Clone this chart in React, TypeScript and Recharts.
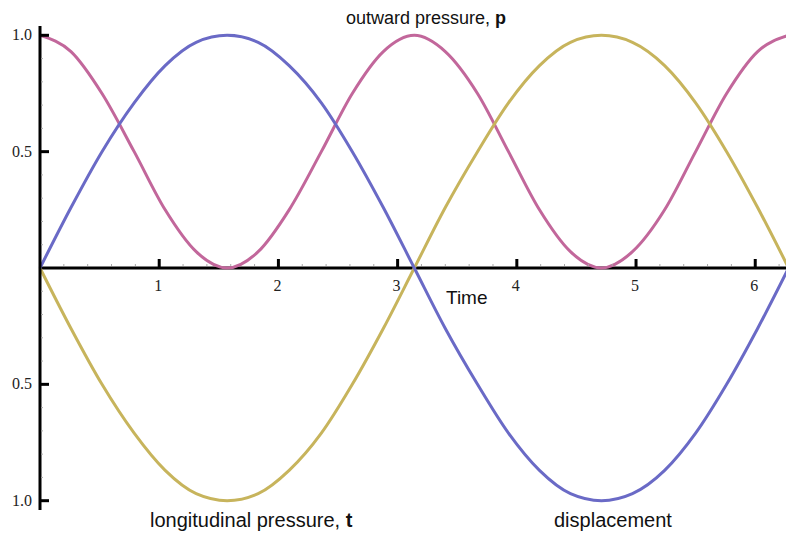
import React from "react"
import { LineChart, Line, XAxis, YAxis, ReferenceLine } from "recharts"

// sample times (radians) and the three curves read at each time
const time = [0, 0.26, 0.52, 0.79, 1.05, 1.31, 1.57, 1.83, 2.09, 2.36, 2.62, 2.88, 3.14, 3.4, 3.67, 3.93, 4.19, 4.45, 4.71, 4.97, 5.24, 5.5, 5.76, 6.02, 6.28]
const displacement = [0, 0.26, 0.5, 0.71, 0.87, 0.97, 1, 0.97, 0.87, 0.71, 0.5, 0.26, 0, -0.26, -0.5, -0.71, -0.87, -0.97, -1, -0.97, -0.87, -0.71, -0.5, -0.26, 0]
const outwardPressure = [1, 0.93, 0.75, 0.5, 0.25, 0.07, 0, 0.07, 0.25, 0.5, 0.75, 0.93, 1, 0.93, 0.75, 0.5, 0.25, 0.07, 0, 0.07, 0.25, 0.5, 0.75, 0.93, 1]
const longitudinalPressure = [0, -0.26, -0.5, -0.71, -0.87, -0.97, -1, -0.97, -0.87, -0.71, -0.5, -0.26, 0, 0.26, 0.5, 0.71, 0.87, 0.97, 1, 0.97, 0.87, 0.71, 0.5, 0.26, 0]

const xMajorTicks = [1, 2, 3, 4, 5, 6]
const yMajorTicks = [-1, -0.5, 0.5, 1]

const data = time.map((t, i) => ({
  t,
  displacement: displacement[i],
  outward: outwardPressure[i],
  longitudinal: longitudinalPressure[i],
}))

// minor tick positions: every 0.2 on x, every 0.1 on y
const xTicks: number[] = []
for (let i = 1; i <= 31; i++) xTicks.push(Math.round(i * 2) / 10)
const yTicks: number[] = []
for (let i = -10; i <= 10; i++) if (i !== 0) yTicks.push(i / 10)

const WIDTH = 790
const HEIGHT = 533
const TOP = 26
const PLOT_H = 484
const X_AXIS_H = 20
const AXIS_X = 40
const ZERO_Y = TOP + PLOT_H / 2

const serif = "'Liberation Serif', 'Times New Roman', serif"
const sans = "'Liberation Sans', Arial, sans-serif"

// x ticks are drawn along the zero line instead of the bottom edge
const XTick = (props: any) => {
  const { x, payload } = props
  const v = payload.value
  const major = xMajorTicks.some((m) => Math.abs(m - v) < 1e-6)
  if (!major) {
    return <line x1={x} x2={x} y1={ZERO_Y - 2} y2={ZERO_Y - 4} stroke="#aaa" strokeWidth={1} />
  }
  return (
    <g>
      <line x1={x} x2={x} y1={ZERO_Y} y2={ZERO_Y - 9} stroke="#000" strokeWidth={3} />
      <text x={x - 1} y={ZERO_Y + 23} textAnchor="middle" fontFamily={serif} fontSize={16} fill="#222">
        {v}
      </text>
    </g>
  )
}

const YTick = (props: any) => {
  const { y, payload } = props
  const v = payload.value
  const major = yMajorTicks.some((m) => Math.abs(m - v) < 1e-6)
  if (!major) {
    return <line x1={AXIS_X + 1} x2={AXIS_X + 3} y1={y} y2={y} stroke="#aaa" strokeWidth={1} />
  }
  return (
    <g>
      <line x1={AXIS_X} x2={AXIS_X + 9} y1={y} y2={y} stroke="#000" strokeWidth={3} />
      <text x={AXIS_X - 8} y={y + 5} textAnchor="end" fontFamily={serif} fontSize={16} fill="#222">
        {Math.abs(v).toFixed(1)}
      </text>
    </g>
  )
}

const labelStyle: React.CSSProperties = {
  position: "absolute",
  fontFamily: sans,
  fontSize: 20,
  color: "#111",
  whiteSpace: "nowrap",
  lineHeight: "24px",
}

export default function App() {
  return (
    <div style={{ position: "absolute", left: 0, top: 0, width: 786, height: 533, overflow: "hidden", background: "#fff" }}>
      <LineChart
        width={WIDTH}
        height={HEIGHT}
        data={data}
        margin={{ top: TOP, right: 1, bottom: HEIGHT - TOP - PLOT_H - X_AXIS_H, left: 0 }}
      >
        <XAxis
          dataKey="t"
          type="number"
          domain={[0, 2 * Math.PI]}
          ticks={xTicks}
          interval={0}
          height={X_AXIS_H}
          axisLine={false}
          tickLine={false}
          tick={XTick}
        />
        <YAxis
          type="number"
          domain={[-1.04, 1.04]}
          ticks={yTicks}
          interval={0}
          width={AXIS_X}
          axisLine={{ stroke: "#000", strokeWidth: 3 }}
          tickLine={false}
          tick={YTick}
        />
        <ReferenceLine y={0} stroke="#000" strokeWidth={3} />
        <Line type="monotone" dataKey="outward" stroke="#c2679b" strokeWidth={3} dot={false} isAnimationActive={false} />
        <Line type="monotone" dataKey="longitudinal" stroke="#c7b45c" strokeWidth={3} dot={false} isAnimationActive={false} />
        <Line type="monotone" dataKey="displacement" stroke="#6a6ac6" strokeWidth={3} dot={false} isAnimationActive={false} />
      </LineChart>
      <div style={{ ...labelStyle, fontSize: 18, left: 346, top: 6 }}>
        outward pressure, <b>p</b>
      </div>
      <div style={{ ...labelStyle, fontSize: 19, left: 446, top: 286 }}>Time</div>
      <div style={{ ...labelStyle, left: 150, top: 508 }}>
        longitudinal pressure, <b>t</b>
      </div>
      <div style={{ ...labelStyle, left: 554, top: 508 }}>displacement</div>
    </div>
  )
}
